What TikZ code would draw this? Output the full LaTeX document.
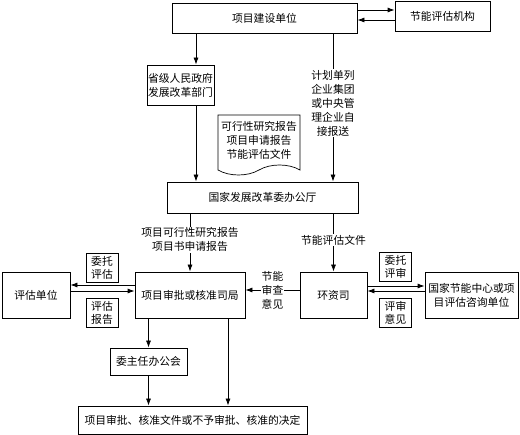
\documentclass[tikz,border=0pt]{standalone}
\usepackage{fontspec}
\setmainfont{Noto Sans CJK SC}
\usetikzlibrary{arrows.meta,calc,positioning,shapes.symbols}

\begin{document}
\begin{tikzpicture}[
    x=1pt, y=-1pt,
    every node/.style={font=\fontsize{10.8}{14}\selectfont},
    box/.style={draw, line width=0.8pt, align=center, inner sep=1pt},
    tag/.style={draw, line width=0.7pt, align=center, inner sep=1pt,
                minimum width=32pt, minimum height=29pt,
                font=\fontsize{10.8}{13}\selectfont},
    lbl/.style={fill=white, align=center, inner sep=1pt},
    line/.style={line width=0.8pt, -{Latex[length=7pt,width=5pt]}}
]
\useasboundingbox (0,0) rectangle (520,435);

\node[box, minimum width=185pt, minimum height=30pt] (jsdw) at (264.5,18) {项目建设单位};
\node[box, minimum width=95pt, minimum height=30pt] (jnpg) at (442.5,16) {节能评估机构};
\node[box, minimum width=65pt, minimum height=40pt] (sfgw) at (180.5,85) {省级人民政府\\发展改革部门};
\node[draw, line width=0.7pt, shape=tape, tape bend top=none, tape bend bottom=in and out,
      tape bend height=10pt, minimum width=82pt, minimum height=60pt,
      align=center, inner sep=1pt] (wj) at (259,140) {可行性研究报告\\项目申请报告\\节能评估文件};
\node[box, minimum width=191pt, minimum height=31pt] (fgw) at (262.5,197.5) {国家发展改革委办公厅};
\node[box, minimum width=110pt, minimum height=46pt] (spj) at (190,295) {项目审批或核准司局};
\node[box, minimum width=68pt, minimum height=46pt] (pgdw) at (36,295) {评估单位};
\node[box, minimum width=67pt, minimum height=46pt] (hzs) at (333.5,295) {环资司};
\node[box, minimum width=93pt, minimum height=46pt] (jnzx) at (471.5,295) {国家节能中心或项\\目评估咨询单位};
\node[box, minimum width=77pt, minimum height=27pt] (wzr) at (148.5,361.5) {委主任办公会};
\node[box, minimum width=229pt, minimum height=28pt] (jd) at (192.5,420) {项目审批、核准文件或不予审批、核准的决定};

% small tags beside the arrows
\node[tag] (wtpg) at (102,267.5) {委托\\评估};
\node[tag] (pgbg) at (102,312.5) {评估\\报告};
\node[tag] (wtps) at (395.5,267) {委托\\评审};
\node[tag] (psyj) at (395.5,312.5) {评审\\意见};

\coordinate (xa) at (196,0);
\coordinate (xb) at (333,0);
\coordinate (xc) at (228,0);

\draw[line] ([yshift=8pt]jsdw.east) -- ([yshift=8pt]jsdw.east -| jnpg.west);
\draw[line] ([yshift=-2pt]jsdw.east -| jnpg.west) -- ([yshift=-2pt]jsdw.east);
\draw[line] (jsdw.south -| xa) -- (sfgw.north -| xa);
\draw[line] (sfgw.south -| xa) -- (fgw.north -| xa);
\draw[line] (jsdw.south -| xb) -- node[lbl, pos=0.47] {计划单列\\企业集团\\或中央管\\理企业自\\接报送} (fgw.north -| xb);

\draw[line] (fgw.south -| spj.north) -- node[lbl, pos=0.45] {项目可行性研究报告\\项目书申请报告} (spj.north);
\draw[line] (fgw.south -| hzs.north) -- node[lbl, pos=0.46] {节能评估文件} (hzs.north);

% left and right exchanges
\draw[line] ([yshift=10pt]spj.west) -- ([yshift=10pt]spj.west -| pgdw.east);
\draw[line] ([yshift=4pt]spj.west -| pgdw.east) -- ([yshift=4pt]spj.west);
\draw[line] ([yshift=9pt]hzs.east) -- ([yshift=9pt]hzs.east -| jnzx.west);
\draw[line] ([yshift=4pt]hzs.east -| jnzx.west) -- ([yshift=4pt]hzs.east);
\draw[line] ([yshift=5pt]hzs.west) -- node[lbl] {节能\\审查\\意见} ([yshift=5pt]hzs.west -| spj.east);

\draw[line] (spj.south -| wzr.north) -- (wzr.north);
\draw[line] (wzr.south) -- (wzr.south |- jd.north);
\draw[line] (spj.south -| xc) -- (jd.north -| xc);
\end{tikzpicture}
\end{document}
